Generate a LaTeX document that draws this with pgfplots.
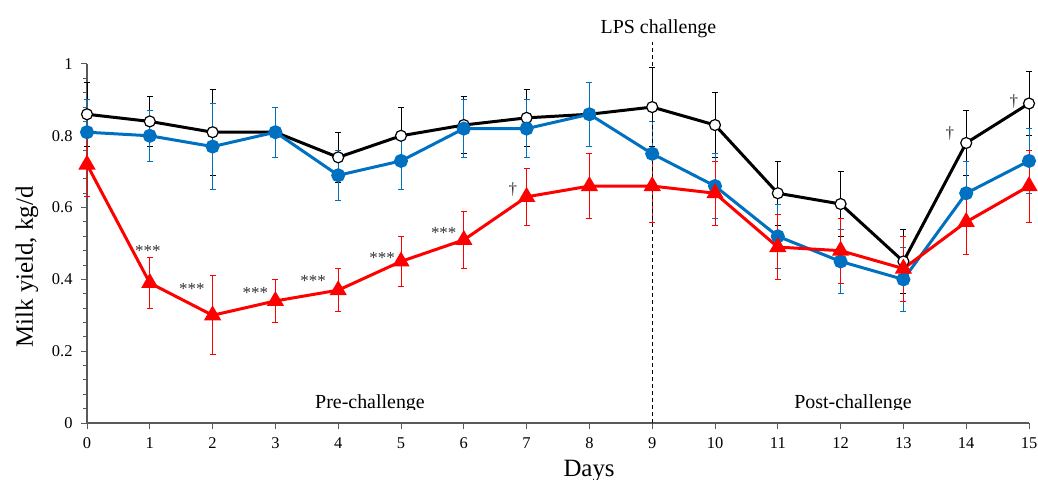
\documentclass[border=0pt]{standalone}
\usepackage{fontspec}
\setmainfont{Liberation Serif}
\usepackage{pgfplots}
\pgfplotsset{compat=1.18}
\definecolor{cBlue}{HTML}{0070C0}
\definecolor{cRed}{HTML}{FF0000}
\definecolor{cAxis}{HTML}{595959}

\begin{document}
\begin{tikzpicture}
\path[use as bounding box] (-87bp,-57bp) rectangle (951bp,423bp);
\begin{axis}[
  scale only axis, width=942bp, height=359bp,
  xmin=0, xmax=15, ymin=0, ymax=1,
  axis lines*=left,
  axis line style={cAxis, line width=1.2bp},
  xtick={0,...,15}, ytick={0,0.2,0.4,0.6,0.8,1},
  minor y tick num=4,
  tick align=outside,
  tick style={cAxis, line width=1bp},
  minor tick style={cAxis, line width=1bp},
  major tick length=6bp, minor tick length=4bp,
  clip=false,
  /pgf/number format/assume math mode=true,
  xticklabel style={font=\rmfamily\fontsize{16.5}{18}\selectfont, yshift=-5bp},
  yticklabel style={font=\rmfamily\fontsize{16.5}{18}\selectfont, xshift=-5bp},
  xlabel={Days},
  xlabel style={font=\fontsize{25}{28}\selectfont, at={(axis description cs:0.533,0)}, anchor=base, yshift=-53bp},
]
% control
\addplot[black, line width=3bp, mark=*, mark size=5.5bp,
  mark options={fill=white, draw=black, line width=1.2bp},
  error bars/.cd, y dir=both, y explicit,
  error bar style={black, line width=0.8bp},
  error mark options={rotate=90, black, mark size=3bp, line width=0.8bp}]
coordinates {
 (0,0.86) +- (0,0.09) (1,0.84) +- (0,0.07) (2,0.81) +- (0,0.12) (3,0.81) +- (0,0.07)
 (4,0.74) +- (0,0.07) (5,0.80) +- (0,0.08) (6,0.83) +- (0,0.08) (7,0.85) +- (0,0.08)
 (8,0.86) +- (0,0.09) (9,0.88) +- (0,0.11) (10,0.83) +- (0,0.09) (11,0.64) +- (0,0.09)
 (12,0.61) +- (0,0.09) (13,0.45) +- (0,0.09) (14,0.78) +- (0,0.09) (15,0.89) +- (0,0.09)
};
% blue
\addplot[cBlue, line width=3bp, mark=*, mark size=5.5bp,
  mark options={fill=cBlue, draw=cBlue},
  error bars/.cd, y dir=both, y explicit,
  error bar style={cBlue, line width=0.8bp},
  error mark options={rotate=90, cBlue, mark size=3bp, line width=0.8bp}]
coordinates {
 (0,0.81) +- (0,0.09) (1,0.80) +- (0,0.07) (2,0.77) +- (0,0.12) (3,0.81) +- (0,0.07)
 (4,0.69) +- (0,0.07) (5,0.73) +- (0,0.08) (6,0.82) +- (0,0.08) (7,0.82) +- (0,0.08)
 (8,0.86) +- (0,0.09) (9,0.75) +- (0,0.09) (10,0.66) +- (0,0.09) (11,0.52) +- (0,0.09)
 (12,0.45) +- (0,0.09) (13,0.40) +- (0,0.09) (14,0.64) +- (0,0.09) (15,0.73) +- (0,0.09)
};
% red
\addplot[cRed, line width=3bp, mark=triangle*, mark size=7bp,
  mark options={fill=cRed, draw=cRed},
  error bars/.cd, y dir=both, y explicit,
  error bar style={cRed, line width=0.8bp},
  error mark options={rotate=90, cRed, mark size=3bp, line width=0.8bp}]
coordinates {
 (0,0.72) +- (0,0.09) (1,0.39) +- (0,0.07) (2,0.30) +- (0,0.11) (3,0.34) +- (0,0.06)
 (4,0.37) +- (0,0.06) (5,0.45) +- (0,0.07) (6,0.51) +- (0,0.08) (7,0.63) +- (0,0.08)
 (8,0.66) +- (0,0.09) (9,0.66) +- (0,0.10) (10,0.64) +- (0,0.09) (11,0.49) +- (0,0.09)
 (12,0.48) +- (0,0.09) (13,0.43) +- (0,0.09) (14,0.56) +- (0,0.09) (15,0.66) +- (0,0.10)
};
\draw[black, line width=1bp, dash pattern=on 4bp off 3bp] (axis cs:9,0) -- (axis cs:9,1.061);
\node[font=\fontsize{20}{22}\selectfont, anchor=base] at (axis cs:9.1,1.086) {LPS challenge};
\begin{scope}[every node/.style={font=\fontsize{17}{19}\selectfont, anchor=north, inner sep=0pt, text=black!80}]
\node at (axis cs:0.97,0.496) {***};
\node at (axis cs:1.67,0.390) {***};
\node at (axis cs:2.68,0.379) {***};
\node at (axis cs:3.60,0.412) {***};
\node at (axis cs:4.70,0.476) {***};
\node at (axis cs:5.68,0.546) {***};
\node at (axis cs:6.78,0.669) {†};
\node at (axis cs:13.74,0.825) {†};
\node at (axis cs:14.76,0.914) {†};
\end{scope}
\end{axis}
\node[font=\fontsize{25}{28}\selectfont, rotate=90, anchor=center] at (-60bp,156bp) {Milk yield, kg/d};
\begin{scope}
\clip (0bp,13bp) rectangle (942bp,60bp);
\node[font=\fontsize{20}{22}\selectfont, anchor=base] at (283bp,15bp) {Pre-challenge};
\node[font=\fontsize{20}{22}\selectfont, anchor=base] at (766bp,15bp) {Post-challenge};
\end{scope}
\end{tikzpicture}
\end{document}
